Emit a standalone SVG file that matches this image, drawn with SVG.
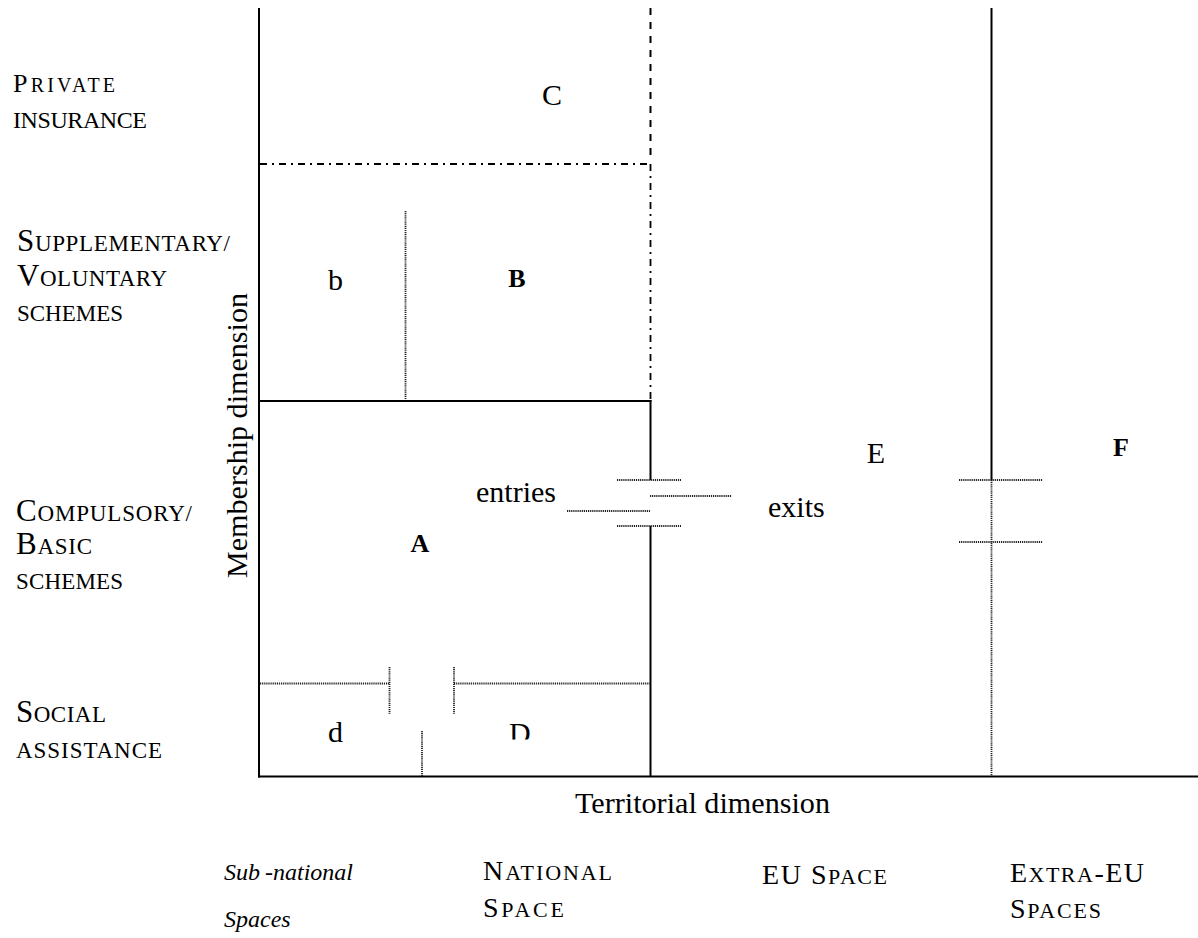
<svg xmlns="http://www.w3.org/2000/svg" width="1198" height="938" viewBox="0 0 1198 938">
<style>
text{font-family:"Liberation Serif","Times New Roman",serif;fill:#000}
.lbl{font-size:30px}
.bold{font-size:26px;font-weight:bold}
.sc{font-size:23px}
.cap{font-size:31px}
.bs{font-size:22px}
.bc{font-size:28px}
.it{font-size:24px;font-style:italic}
.solid{stroke:#000;stroke-width:2;fill:none}
.dot{stroke:#222;stroke-width:1.8;stroke-dasharray:1.2 0.9;fill:none}
.dash{stroke:#000;stroke-width:2;stroke-dasharray:7 7;fill:none}
.dashdot{stroke:#000;stroke-width:1.8;stroke-dasharray:7 5 2 5;fill:none}
</style>
<defs>
<clipPath id="clipD"><rect x="490" y="700" width="60" height="39.5"/></clipPath>
</defs>
<rect width="1198" height="938" fill="#fff"/>
<g id="connectors">
<line class="solid" x1="259" y1="8" x2="259" y2="777.5"/>
<line class="solid" x1="258" y1="776.5" x2="1198" y2="776.5"/>
<line class="dash" x1="650.5" y1="8" x2="650.5" y2="160"/>
<line class="dashdot" x1="260" y1="164" x2="650.5" y2="164"/>
<line class="dashdot" x1="650.5" y1="164" x2="650.5" y2="400"/>
<line class="solid" x1="259" y1="401" x2="651.5" y2="401"/>
<line class="dot" x1="405.5" y1="211" x2="405.5" y2="400"/>
<line class="solid" x1="650.5" y1="400" x2="650.5" y2="480"/>
<line class="solid" x1="650.5" y1="526" x2="650.5" y2="777"/>
<line class="dot" x1="617" y1="480" x2="681" y2="480"/>
<line class="dot" x1="650" y1="496" x2="732" y2="496"/>
<line class="dot" x1="567" y1="511" x2="650" y2="511"/>
<line class="dot" x1="617" y1="526" x2="681" y2="526"/>
<line class="dot" x1="260" y1="683.5" x2="389" y2="683.5"/>
<line class="dot" x1="389.5" y1="667" x2="389.5" y2="714"/>
<line class="dot" x1="454" y1="667" x2="454" y2="714"/>
<line class="dot" x1="454" y1="683.5" x2="650" y2="683.5"/>
<line class="dot" x1="422" y1="731" x2="422" y2="776"/>
<line class="solid" x1="991.5" y1="8" x2="991.5" y2="480"/>
<line class="dot" x1="991.5" y1="480" x2="991.5" y2="776"/>
<line class="dot" x1="959" y1="480" x2="1043" y2="480"/>
<line class="dot" x1="959" y1="542" x2="1043" y2="542"/>
</g>
<g id="row-labels">
<text x="13" y="92" textLength="102" lengthAdjust="spacing"><tspan style="font-size:26px">P</tspan><tspan style="font-size:20px">RIVATE</tspan></text>
<text x="13" y="128" style="font-size:24px" textLength="134" lengthAdjust="spacing">INSURANCE</text>
<text x="17" y="251" textLength="213" lengthAdjust="spacing"><tspan class="cap">S</tspan><tspan class="sc">UPPLEMENTARY/</tspan></text>
<text x="17" y="286" textLength="150" lengthAdjust="spacing"><tspan class="cap">V</tspan><tspan class="sc">OLUNTARY</tspan></text>
<text x="17" y="321" class="sc" textLength="106" lengthAdjust="spacing">SCHEMES</text>
<text x="16" y="521" textLength="176" lengthAdjust="spacing"><tspan class="cap">C</tspan><tspan class="sc">OMPULSORY/</tspan></text>
<text x="16" y="554" textLength="76" lengthAdjust="spacing"><tspan class="cap">B</tspan><tspan class="sc">ASIC</tspan></text>
<text x="16" y="589" class="sc" textLength="107" lengthAdjust="spacing">SCHEMES</text>
<text x="16" y="722" textLength="90" lengthAdjust="spacing"><tspan class="cap">S</tspan><tspan class="sc">OCIAL</tspan></text>
<text x="16" y="758" class="sc" textLength="146" lengthAdjust="spacing">ASSISTANCE</text>
</g>
<g id="axis-labels">
<text class="lbl" transform="translate(247,578) rotate(-90)" textLength="285" lengthAdjust="spacingAndGlyphs">Membership dimension</text>
<text class="lbl" x="575" y="813" textLength="255" lengthAdjust="spacingAndGlyphs">Territorial dimension</text>
</g>
<g id="node-C"><text class="lbl" x="552" y="105" text-anchor="middle">C</text></g>
<g id="node-b"><text class="lbl" x="328" y="290">b</text></g>
<g id="node-B"><text class="bold" x="517" y="287" text-anchor="middle">B</text></g>
<g id="node-A"><text class="bold" x="420" y="552" text-anchor="middle">A</text></g>
<g id="node-E"><text class="lbl" x="876" y="463" text-anchor="middle">E</text></g>
<g id="node-F"><text class="bold" x="1121" y="456" text-anchor="middle">F</text></g>
<g id="node-d"><text class="lbl" x="328" y="742">d</text></g>
<g id="node-D"><text class="lbl" x="509" y="743" clip-path="url(#clipD)">D</text></g>
<g id="gate-labels">
<text class="lbl" x="556" y="502" text-anchor="end">entries</text>
<text class="lbl" x="768" y="517">exits</text>
</g>
<g id="space-labels">
<text class="it" x="224" y="880"><tspan>Sub</tspan><tspan dx="5">-national</tspan></text>
<text class="it" x="224" y="927">Spaces</text>
<text x="483" y="880" textLength="129" lengthAdjust="spacing"><tspan class="bc">N</tspan><tspan class="bs">ATIONAL</tspan></text>
<text x="483" y="917" textLength="81" lengthAdjust="spacing"><tspan class="bc">S</tspan><tspan class="bs">PACE</tspan></text>
<text x="762" y="884" textLength="125" lengthAdjust="spacing"><tspan class="bc">EU S</tspan><tspan class="bs">PACE</tspan></text>
<text x="1010" y="882" textLength="134" lengthAdjust="spacing"><tspan class="bc">E</tspan><tspan class="bs">XTRA</tspan><tspan class="bc">-EU</tspan></text>
<text x="1010" y="918" textLength="91" lengthAdjust="spacing"><tspan class="bc">S</tspan><tspan class="bs">PACES</tspan></text>
</g>
</svg>
